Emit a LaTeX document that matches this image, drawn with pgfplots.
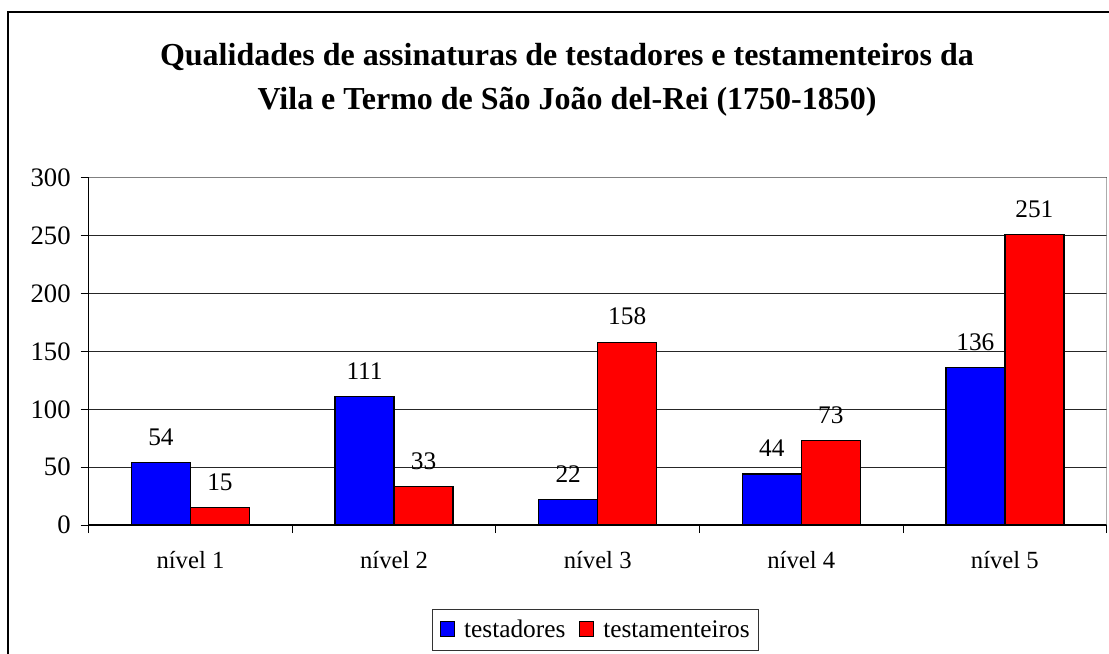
\documentclass[border=0pt]{standalone}
\usepackage{pgfplots}
\pgfplotsset{compat=1.18}
\usepackage{fontspec}
\setmainfont{Liberation Serif}
\pgfplotsset{sqlegend/.style={legend image code/.code={%
  \draw[##1, line width=0.75pt] (0pt,-4.5pt) rectangle (11pt,6.5pt);
  \path[draw=none, fill=none] (0pt,0pt) -- (16pt,0pt);}}}
\begin{document}
\begin{tikzpicture}
\useasboundingbox (0,0) rectangle (831.75pt,489.75pt);
% outer chart frame (right and bottom edges fall outside the picture)
\begin{scope}
\clip (0,0) rectangle (831.75pt,489.75pt);
\draw[line width=1.5pt] (6pt,-10pt) -- (6pt,480.75pt) -- (900pt,480.75pt);
\end{scope}
% title
\node[anchor=base,font=\fontsize{24}{28}\selectfont\bfseries] at (425.25pt,440.25pt)
  {Qualidades de assinaturas de testadores e testamenteiros da};
\node[anchor=base,font=\fontsize{24}{28}\selectfont\bfseries] at (425.25pt,407.25pt)
  {Vila e Termo de São João del-Rei (1750-1850)};
\begin{axis}[
    at={(66.5pt,96pt)}, anchor=south west,
    scale only axis,
    width=763.5pt, height=260.25pt,
    ybar=0pt, bar width=44.25pt,
    xmin=-0.5, xmax=4.5,
    ymin=0, ymax=300,
    xtick={0,...,4},
    xticklabels={nível 1,nível 2,nível 3,nível 4,nível 5},
    minor xtick={-0.5,0.5,1.5,2.5,3.5,4.5},
    ytick={0,50,...,300},
    axis x line*=bottom, axis y line*=left,
    axis line style={black, line width=1pt},
    tick align=outside,
    major tick length=6pt, minor tick length=6pt,
    major x tick style={draw=none},
    tick style={black, line width=0.75pt},
    ymajorgrids,
    major grid style={black!85, line width=0.75pt},
    xticklabel style={font=\fontsize{18.5}{21}\selectfont, yshift=-10pt},
    yticklabel style={font=\fontsize{20}{23}\selectfont, xshift=-4pt},
    /pgf/number format/assume math mode=true,
    nodes near coords,
    every node near coord/.append style={font=\fontsize{19}{22}\selectfont, yshift=9pt},
    legend style={at={(0.4983,-0.3026)}, anchor=center, legend columns=2,
      draw=black!80, line width=0.75pt, font=\fontsize{19}{22}\selectfont,
      inner xsep=5pt, inner ysep=6pt,
      /tikz/every even column/.append style={column sep=8pt}},
]
\addplot[fill={rgb,255:red,0;green,0;blue,255}, draw=black, line width=1pt, sqlegend]
  coordinates {(0,54) (1,111) (2,22) (3,44) (4,136)};
\addlegendentry{testadores}
\addplot[fill={rgb,255:red,255;green,0;blue,0}, draw=black, line width=1pt, sqlegend]
  coordinates {(0,15) (1,33) (2,158) (3,73) (4,251)};
\addlegendentry{testamenteiros}
\draw[gray, line width=0.75pt] (rel axis cs:0,1) -- (rel axis cs:1,1) -- (rel axis cs:1,0);
\end{axis}
\end{tikzpicture}
\end{document}
